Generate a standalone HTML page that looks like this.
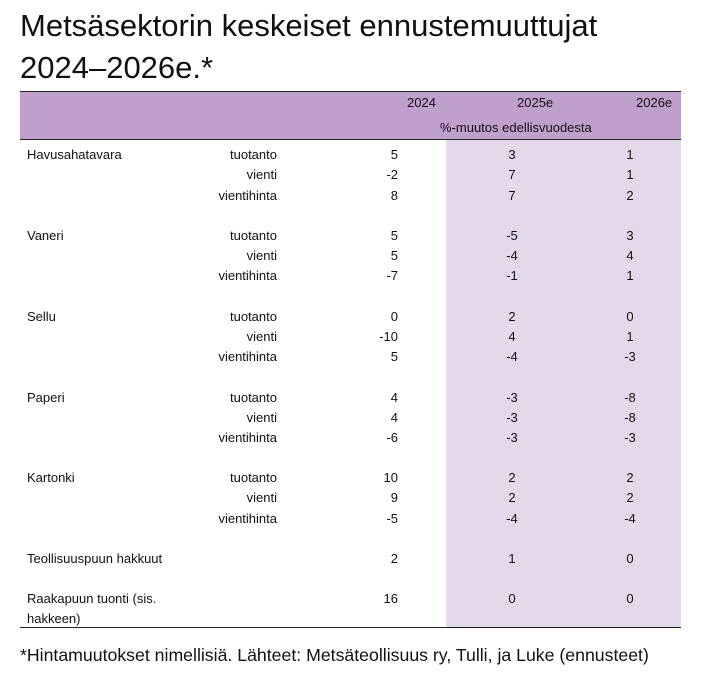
<!DOCTYPE html>
<html><head><meta charset="utf-8"><style>
body{margin:0;width:708px;height:691px;background:#fff;position:relative;font-family:"Liberation Sans",sans-serif;color:#111;overflow:hidden}
div{position:absolute;white-space:nowrap}
.t{font-size:31px;left:20px}
.c{font-size:13px;line-height:16px}
.l{left:27px}
.s{right:431px;text-align:right}
.a{right:310px;text-align:right}
.b{left:462px;width:100px;text-align:center}
.d{left:580px;width:100px;text-align:center}
</style></head><body>
<div class="t" style="top:8px">Metsäsektorin keskeiset ennustemuuttujat</div>
<div class="t" style="top:50px">2024–2026e.*</div>
<div style="left:20px;top:91px;width:661px;height:49px;background:#bfa0cc;border-top:1px solid #222;border-bottom:1px solid #222;box-sizing:border-box"></div>
<div style="left:446px;top:140px;width:235px;height:488px;background:#e4d9eb"></div>
<div style="left:20px;top:627px;width:661px;height:1px;background:#222"></div>
<div class="c" style="left:407px;top:95px">2024</div>
<div class="c" style="left:517px;top:95px">2025e</div>
<div class="c" style="left:636px;top:95px">2026e</div>
<div class="c" style="left:440px;top:120px">%-muutos edellisvuodesta</div>

<div class="c l" style="top:147px">Havusahatavara</div>
<div class="c s" style="top:147px">tuotanto</div><div class="c a" style="top:147px">5</div><div class="c b" style="top:147px">3</div><div class="c d" style="top:147px">1</div>
<div class="c s" style="top:167px">vienti</div><div class="c a" style="top:167px">-2</div><div class="c b" style="top:167px">7</div><div class="c d" style="top:167px">1</div>
<div class="c s" style="top:188px">vientihinta</div><div class="c a" style="top:188px">8</div><div class="c b" style="top:188px">7</div><div class="c d" style="top:188px">2</div>

<div class="c l" style="top:228px">Vaneri</div>
<div class="c s" style="top:228px">tuotanto</div><div class="c a" style="top:228px">5</div><div class="c b" style="top:228px">-5</div><div class="c d" style="top:228px">3</div>
<div class="c s" style="top:248px">vienti</div><div class="c a" style="top:248px">5</div><div class="c b" style="top:248px">-4</div><div class="c d" style="top:248px">4</div>
<div class="c s" style="top:268px">vientihinta</div><div class="c a" style="top:268px">-7</div><div class="c b" style="top:268px">-1</div><div class="c d" style="top:268px">1</div>

<div class="c l" style="top:309px">Sellu</div>
<div class="c s" style="top:309px">tuotanto</div><div class="c a" style="top:309px">0</div><div class="c b" style="top:309px">2</div><div class="c d" style="top:309px">0</div>
<div class="c s" style="top:329px">vienti</div><div class="c a" style="top:329px">-10</div><div class="c b" style="top:329px">4</div><div class="c d" style="top:329px">1</div>
<div class="c s" style="top:349px">vientihinta</div><div class="c a" style="top:349px">5</div><div class="c b" style="top:349px">-4</div><div class="c d" style="top:349px">-3</div>

<div class="c l" style="top:390px">Paperi</div>
<div class="c s" style="top:390px">tuotanto</div><div class="c a" style="top:390px">4</div><div class="c b" style="top:390px">-3</div><div class="c d" style="top:390px">-8</div>
<div class="c s" style="top:410px">vienti</div><div class="c a" style="top:410px">4</div><div class="c b" style="top:410px">-3</div><div class="c d" style="top:410px">-8</div>
<div class="c s" style="top:430px">vientihinta</div><div class="c a" style="top:430px">-6</div><div class="c b" style="top:430px">-3</div><div class="c d" style="top:430px">-3</div>

<div class="c l" style="top:470px">Kartonki</div>
<div class="c s" style="top:470px">tuotanto</div><div class="c a" style="top:470px">10</div><div class="c b" style="top:470px">2</div><div class="c d" style="top:470px">2</div>
<div class="c s" style="top:490px">vienti</div><div class="c a" style="top:490px">9</div><div class="c b" style="top:490px">2</div><div class="c d" style="top:490px">2</div>
<div class="c s" style="top:511px">vientihinta</div><div class="c a" style="top:511px">-5</div><div class="c b" style="top:511px">-4</div><div class="c d" style="top:511px">-4</div>

<div class="c l" style="top:551px">Teollisuuspuun hakkuut</div>
<div class="c a" style="top:551px">2</div><div class="c b" style="top:551px">1</div><div class="c d" style="top:551px">0</div>

<div class="c l" style="top:591px">Raakapuun tuonti (sis.</div>
<div class="c l" style="top:611px">hakkeen)</div>
<div class="c a" style="top:591px">16</div><div class="c b" style="top:591px">0</div><div class="c d" style="top:591px">0</div>

<div style="left:20px;top:645px;font-size:17.7px">*Hintamuutokset nimellisiä. Lähteet: Metsäteollisuus ry, Tulli, ja Luke (ennusteet)</div>
</body></html>
